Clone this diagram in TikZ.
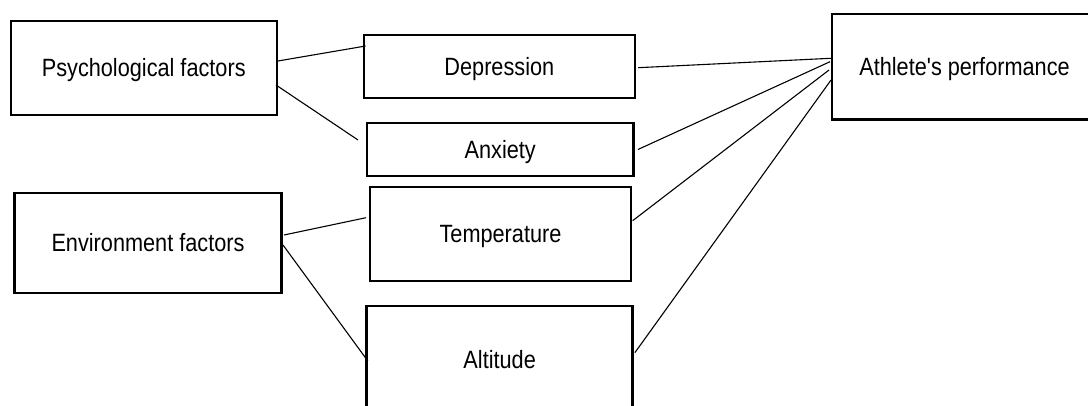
\documentclass[tikz,border=0pt]{standalone}
\usepackage{fontspec}
\setmainfont{Liberation Sans}[Ligatures=TeXOff]
\newcommand{\condtxt}[1]{\scalebox{0.868}[1]{#1}}
\begin{document}
\begin{tikzpicture}[x=1pt,y=-1pt,
  box/.style={draw=black,line width=2.4pt,fill=white,inner sep=0pt,
    text height=18pt,text depth=0pt,
    font=\fontsize{25}{30}\selectfont},
  link/.style={draw=black,line width=1.1pt}]
\useasboundingbox (0,0) rectangle (1088,406);
\fill[white] (0,0) rectangle (1088,406);
% boxes
\node[box,minimum width=266pt,minimum height=94pt] (psych) at (143.75,67.75) {\condtxt{Psychological factors}};
\node[box,minimum width=271pt,minimum height=62.5pt] (dep) at (499.35,66.5) {\condtxt{Depression}};
\node[box,minimum width=266.5pt,minimum height=53pt] (anx) at (500.2,149.5) {\condtxt{Anxiety}};
\node[box,minimum width=260.5pt,minimum height=94pt] (temp) at (500.5,234) {\condtxt{Temperature}};
\node[box,minimum width=266pt,minimum height=107.5pt] (alt) at (499.65,360) {\condtxt{Altitude}};
\node[box,minimum width=267pt,minimum height=100pt] (env) at (148,243) {\condtxt{Environment factors}};
\node[box,minimum width=264.5pt,minimum height=105.5pt] (ath) at (964.5,66.7) {\condtxt{Athlete's performance}};
% connectors
\draw[link] ([yshift=6.75pt]psych.east) -- ([xshift=3pt,yshift=20.5pt]dep.west);
\draw[link] ([xshift=-2pt,yshift=-17.25pt]psych.east) -- ([xshift=-7.7pt,yshift=9.5pt]anx.west);
\draw[link] ([xshift=2pt,yshift=-1.2pt]dep.east) -- ([xshift=-0.3pt,yshift=8.4pt]ath.west);
\draw[link] ([xshift=3.3pt]anx.east) -- ([xshift=-1pt,yshift=5pt]ath.west);
\draw[link] ([xshift=0.7pt,yshift=13.3pt]temp.east) -- ([xshift=-2pt,yshift=-3.3pt]ath.west);
\draw[link] ([xshift=1pt,yshift=7.3pt]alt.east) -- ([yshift=-13.3pt]ath.west);
\draw[link] ([xshift=1.3pt,yshift=8pt]env.east) -- ([xshift=-3pt,yshift=16.3pt]temp.west);
\draw[link] ([xshift=0.3pt,yshift=-2pt]env.east) -- ([xshift=2.4pt,yshift=-1pt]alt.west);
\end{tikzpicture}
\end{document}
